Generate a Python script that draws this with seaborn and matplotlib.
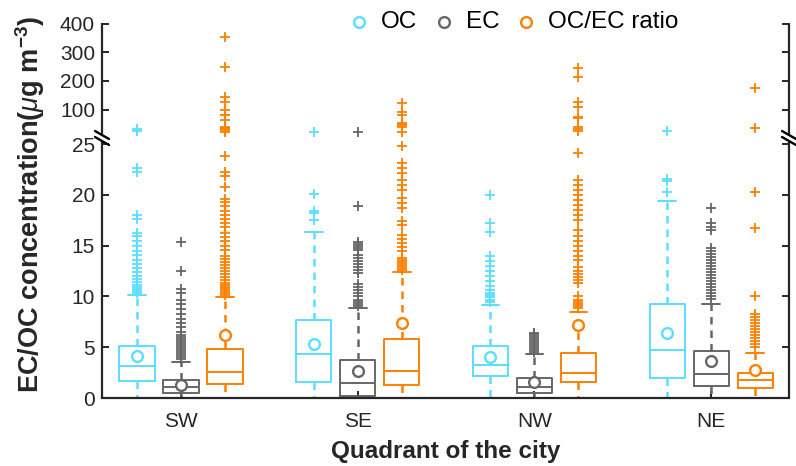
import numpy as np
import pandas as pd
import matplotlib
matplotlib.use("Agg")
import matplotlib.pyplot as plt
import seaborn as sns

# ---------------- data ----------------
quadrants = ["SW", "SE", "NW", "NE"]
series = ["OC", "EC", "OC/EC ratio"]
colors = ["#5ADFFF", "#666666", "#FF8000"]

# rows: OC, EC, OC/EC ratio ; columns: SW, SE, NW, NE
whisker_low = [[0.0, 0.0, 0.0, 0.0], [0.0, 0.0, 0.0, 0.0], [0.0, 0.0, 0.0, 0.0]]
q1 = [[1.7, 1.55, 2.2, 2.0], [0.45, 0.15, 0.45, 1.2], [1.4, 1.3, 1.55, 0.95]]
median = [[3.2, 4.35, 3.25, 4.7], [1.1, 1.45, 1.1, 2.4], [2.6, 2.65, 2.5, 1.8]]
q3 = [[5.1, 7.7, 5.1, 9.3], [1.75, 3.7, 2.0, 4.6], [4.85, 5.8, 4.45, 2.5]]
whisker_high = [[10.1, 16.4, 9.2, 19.4], [3.5, 8.9, 4.3, 9.3], [9.9, 12.4, 8.5, 4.4]]
means = [[4.1, 5.3, 4.05, 6.4], [1.3, 2.65, 1.6, 3.6], [6.2, 7.35, 7.2, 2.75]]

outliers_oc = [
    [10.3, 10.5, 10.7, 10.9, 11.1, 11.4, 11.7, 12.0, 12.4, 12.8, 13.2, 13.6, 14.1,
     14.5, 15.0, 15.5, 16.0, 16.3, 17.6, 18.0, 22.3, 22.7, 54, 58],
    [17.5, 18.2, 18.4, 20.1, 51],
    [9.5, 9.7, 9.9, 10.1, 10.3, 10.6, 11.0, 11.5, 12.0, 12.5, 13.0, 13.5, 14.0,
     16.4, 17.2, 20.0],
    [20.3, 21.4, 21.6, 54],
]
outliers_ec = [
    [3.8, 4.0, 4.2, 4.4, 4.6, 4.8, 5.0, 5.2, 5.4, 5.6, 5.8, 6.0, 6.2, 6.5, 7.0,
     7.4, 7.8, 8.3, 8.8, 9.3, 9.7, 10.3, 10.7, 12.5, 15.4],
    [9.1, 9.3, 9.5, 9.7, 10.0, 10.3, 10.6, 10.9, 11.2, 12.3, 12.6, 12.9, 13.2,
     13.5, 13.8, 14.1, 14.6, 14.8, 15.0, 15.2, 15.4, 18.9, 51],
    [4.5, 4.7, 4.9, 5.1, 5.3, 5.5, 5.7, 5.9, 6.1, 6.3, 6.4],
    [9.8, 10.0, 10.3, 10.6, 10.9, 11.2, 11.5, 11.8, 12.1, 12.4, 12.7, 13.0, 13.3,
     13.6, 13.9, 14.2, 14.5, 14.8, 16.5, 16.8, 17.2, 18.7],
]
outliers_ratio = [
    [10.1, 10.3, 10.5, 10.7, 10.9, 11.1, 11.3, 11.6, 11.9, 12.2, 12.5, 12.8, 13.1,
     13.4, 13.7, 14.0, 14.6, 15.0, 15.5, 15.9, 16.3, 16.8, 17.2, 17.6, 18.0, 18.4,
     18.9, 19.3, 19.6, 20.8, 21.9, 22.3, 23.8, 52, 55, 58, 61, 63, 78, 89, 100,
     128, 145, 250, 354],
    [12.6, 12.8, 13.0, 13.2, 13.4, 13.6, 13.8, 14.5, 14.9, 15.3, 15.7, 16.1, 17.0,
     17.4, 18.7, 19.2, 19.7, 20.5, 21.0, 21.5, 22.2, 22.7, 23.1, 24.8, 52, 63, 66,
     69, 72, 89, 96, 124],
    [8.9, 9.1, 9.3, 9.5, 9.7, 10.0, 11.3, 11.6, 11.9, 12.2, 12.5, 12.9, 13.6,
     14.0, 14.5, 15.0, 15.5, 16.0, 16.5, 17.5, 18.0, 18.5, 19.0, 19.5, 20.0, 20.5,
     21.0, 21.5, 24.1, 54, 58, 63, 83, 85, 111, 128, 215, 246],
    [5.0, 5.3, 5.6, 5.9, 6.2, 6.5, 6.8, 7.1, 7.4, 7.7, 8.0, 8.3, 10.0, 16.7, 20.3,
     61, 177],
]
outliers = [outliers_oc, outliers_ec, outliers_ratio]

y_ticks = [0, 5, 10, 15, 20, 25, 100, 200, 300, 400]

# ---------------- broken (piecewise linear) y scale ----------------
_YV = np.array([0.0, 25.0, 100.0, 400.0])
_YP = np.array([0.0, 253.75, 288.25, 374.35])


def fwd(v):
    v = np.asarray(v, dtype=float)
    out = np.interp(v, _YV, _YP)
    out = np.where(v < 0, v * 10.15, out)
    out = np.where(v > 400, 374.35 + (v - 400) * 0.287, out)
    return out


def inv(p):
    p = np.asarray(p, dtype=float)
    out = np.interp(p, _YP, _YV)
    out = np.where(p < 0, p / 10.15, out)
    out = np.where(p > 374.35, 400 + (p - 374.35) / 0.287, out)
    return out


# ---------------- raw samples reproducing the box statistics ----------------
rows = []
N_BLOCK = 200
for si, s in enumerate(series):
    for qi, q in enumerate(quadrants):
        vals = ([whisker_low[si][qi]] + [q1[si][qi]] * N_BLOCK + [median[si][qi]] * N_BLOCK
                + [q3[si][qi]] * N_BLOCK + [whisker_high[si][qi]] + list(outliers[si][qi]))
        rows += [(q, s, v) for v in vals]
df = pd.DataFrame(rows, columns=["quadrant", "species", "value"])

mean_rows = [(qi, s, means[si][qi]) for si, s in enumerate(series) for qi in range(len(quadrants))]
mdf = pd.DataFrame(mean_rows, columns=["qidx", "species", "value"])

# ---------------- figure ----------------
sns.set_theme(style="white")
plt.rcParams["font.family"] = ["Liberation Sans", "DejaVu Sans"]
plt.rcParams["mathtext.fontset"] = "custom"
plt.rcParams["mathtext.rm"] = "Liberation Sans"
plt.rcParams["mathtext.it"] = "Liberation Sans:italic"
plt.rcParams["mathtext.bf"] = "Liberation Sans:bold"
AX_COL = "#262626"

fig = plt.figure(figsize=(7.96, 4.66), dpi=100)
ax = fig.add_axes([102 / 796, 1 - 398 / 466, 687 / 796, 375 / 466])
ax.set_yscale("function", functions=(fwd, inv))
ax.set_ylim(0, 402)

WIDTH = 0.747
sns.boxplot(data=df, x="quadrant", y="value", hue="species", order=quadrants,
            hue_order=series, palette=colors, fill=False, width=WIDTH, gap=0.2,
            whis=1.5, linewidth=1.4, fliersize=6.5, legend=False, ax=ax,
            whiskerprops={"linestyle": (0, (3, 2.4)), "linewidth": 1.8},
            flierprops={"marker": "+", "markeredgewidth": 1.3},
            medianprops={"linewidth": 1.4})

# mean markers (open circles)
n_h = len(series)
for si, s in enumerate(series):
    sub = mdf[mdf["species"] == s]
    xpos = sub["qidx"].to_numpy() + (si - (n_h - 1) / 2) * WIDTH / n_h
    sns.scatterplot(x=xpos, y=sub["value"].to_numpy(), ax=ax, marker="o", s=60,
                    facecolor="white", edgecolor=colors[si], linewidth=1.7,
                    label=s, zorder=5)

ax.set_xlim(-0.447, 3.44)
ax.set_xticks(range(len(quadrants)))
ax.set_xticklabels(quadrants)
ax.set_yticks(y_ticks)
ax.set_yticklabels([str(t) for t in y_ticks])
ax.tick_params(axis="both", direction="in", length=5, width=1.4, colors=AX_COL,
               labelcolor=AX_COL, labelsize=15)
ax.tick_params(axis="y", right=True, left=True, pad=5)
ax.tick_params(axis="x", bottom=True, top=False, pad=10)

ax.set_xlabel("Quadrant of the city", fontsize=17.5, fontweight="bold", color=AX_COL)
ax.set_ylabel(r"EC/OC concentration($\mu$g m$^{\mathbf{-3}}$)", fontsize=19.5,
              fontweight="bold", color=AX_COL)
ax.xaxis.set_label_coords(0.5, -0.112)
ax.yaxis.set_label_coords(-0.08, 0.515)

# spines with axis-break marks
for side in ["left", "right", "top"]:
    ax.spines[side].set_visible(False)
ax.spines["bottom"].set_color(AX_COL)
ax.spines["bottom"].set_linewidth(1.6)
ax.spines["bottom"].set_zorder(6)
H, W = 375.0, 687.0
gap_lo = (398 - 142) / H
gap_hi = (398 - 134) / H
for xa in (0.0, 1.0):
    ax.plot([xa, xa], [0, gap_lo], transform=ax.transAxes, color=AX_COL, lw=1.6,
            clip_on=False, solid_capstyle="butt", zorder=6)
    ax.plot([xa, xa], [gap_hi, 1], transform=ax.transAxes, color=AX_COL, lw=1.6,
            clip_on=False, solid_capstyle="butt", zorder=6)
    for yc in (135, 141):
        yf = (398 - yc) / H
        ax.plot([xa - 7 / W, xa + 7 / W], [yf + 4 / H, yf - 4 / H], transform=ax.transAxes,
                color="black", lw=1.7, clip_on=False, zorder=6)

leg = ax.legend(loc="center", bbox_to_anchor=(0.647, 1 - 22 / 466),
                bbox_transform=fig.transFigure, ncol=3, frameon=False, fontsize=17.5,
                handlelength=0.6, handletextpad=0.6, columnspacing=0.8,
                borderpad=0, borderaxespad=0)
for t in leg.get_texts():
    t.set_color("black")

fig.savefig("out.png", dpi=100)
